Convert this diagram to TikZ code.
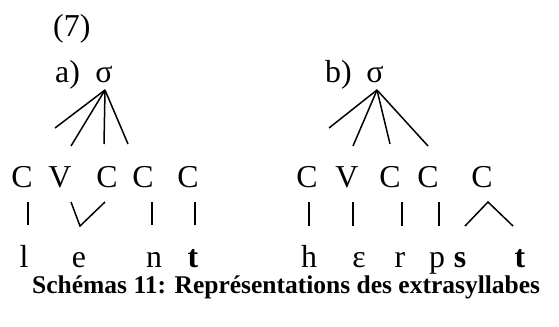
\documentclass[tikz,border=0pt]{standalone}
\usepackage{fontspec}
\setmainfont{Liberation Serif}
\begin{document}
\begin{tikzpicture}[x=1bp,y=-1bp,
  lbl/.style={inner sep=0pt,anchor=base,font=\fontsize{32}{36}\selectfont},
  captext/.style={inner sep=0pt,anchor=base west,font=\fontsize{25.6}{30}\selectfont\bfseries},
  br/.style={line width=1.5bp}]
\useasboundingbox (0,0) rectangle (559,326);
% title and labels
\node[lbl,anchor=base west] (num) at (53,36) {(7)};
\node[lbl,anchor=base west] (la) at (55,82) {a)};
\node[lbl] (sa) at (104,82) {σ};
\node[lbl,anchor=base west] (lb) at (325,82) {b)};
\node[lbl] (sb) at (375,82) {σ};
\coordinate (ta) at (105,90);
\coordinate (tb) at (377,90);
% tree a
\coordinate (a1) at (55,128);
\coordinate (a2) at (71,146);
\coordinate (a3) at (104,144);
\coordinate (a4) at (128,144);
\foreach \e in {a1,a2,a3,a4} \draw[br] (ta) -- (\e);
% tree b
\coordinate (b1) at (329,128);
\coordinate (b2) at (353,146);
\coordinate (b3) at (390,144);
\coordinate (b4) at (428,146);
\foreach \e in {b1,b2,b3,b4} \draw[br] (tb) -- (\e);
% skeleton a
\node[lbl] (ca1) at (22,187) {C};
\node[lbl] (ca2) at (60,187) {V};
\node[lbl] (ca3) at (107,187) {C};
\node[lbl] (ca4) at (143,187) {C};
\node[lbl] (ca5) at (188,187) {C};
% skeleton b
\node[lbl] (cb1) at (307,187) {C};
\node[lbl] (cb2) at (347,187) {V};
\node[lbl] (cb3) at (390,187) {C};
\node[lbl] (cb4) at (428,187) {C};
\node[lbl] (cb5) at (482,187) {C};
% association lines a
\draw[br] (28,202) -- (28,225);
\draw[br] (71,202) -- (80,226) -- (105,202);
\draw[br] (152,202) -- (152,225);
\draw[br] (195,202) -- (195,225);
% association lines b
\draw[br] (309,202) -- (309,226);
\draw[br] (353,202) -- (353,226);
\draw[br] (402,202) -- (402,226);
\draw[line width=2.2bp] (439,202) -- (439,226);
\draw[br] (465,226) -- (488,202) -- (513,226);
% segments a
\node[lbl] (wa1) at (24,267) {l};
\node[lbl] (wa2) at (79,267) {e};
\node[lbl] (wa3) at (154,267) {n};
\node[lbl] (wa4) at (193,267) {\bfseries t};
% segments b
\node[lbl] (wb1) at (309,267) {h};
\node[lbl] (wb2) at (359,267) {ε};
\node[lbl] (wb3) at (400,267) {r};
\node[lbl] (wb4) at (437,267) {p};
\node[lbl] (wb5) at (460,267) {\bfseries s};
\node[lbl] (wb6) at (520,267) {\bfseries t};
% caption
\node[captext] (caption) at (32,293) {Schémas 11: Représentations des extrasyllabes};
\end{tikzpicture}
\end{document}
